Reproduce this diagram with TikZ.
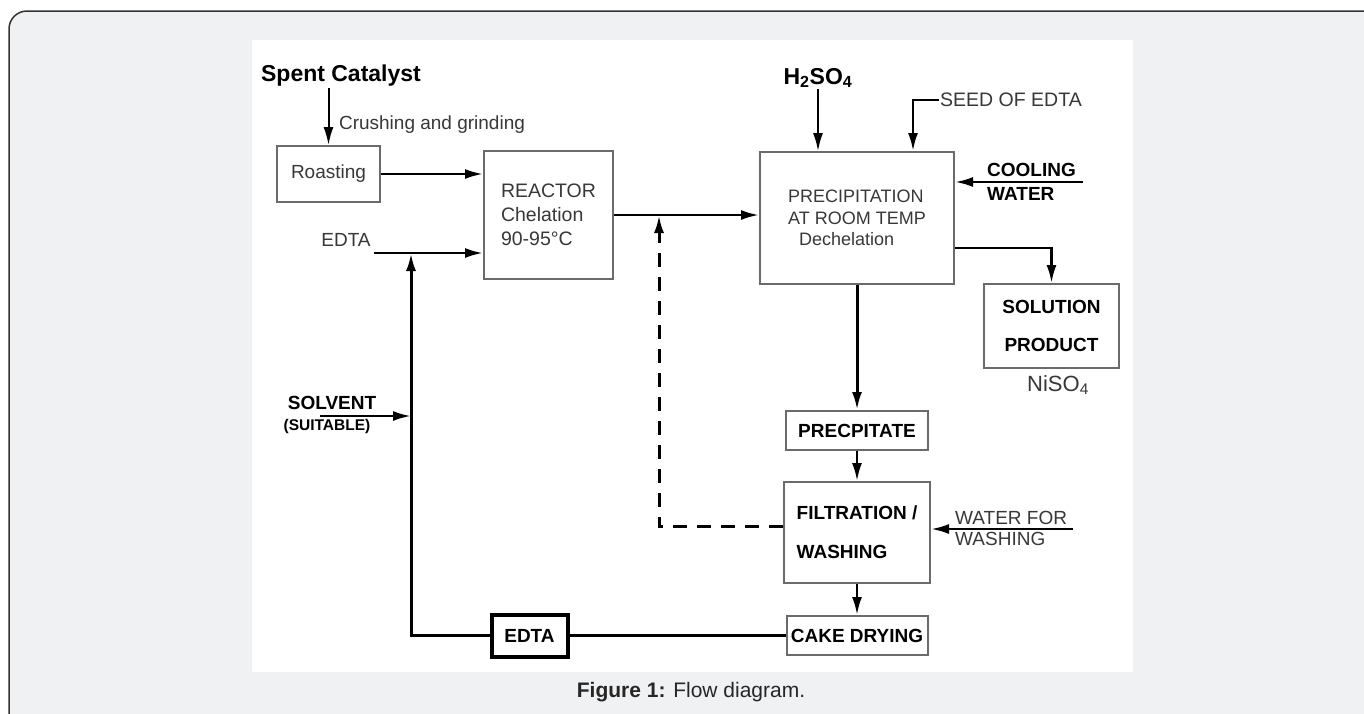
\documentclass[tikz,border=0pt]{standalone}
\usepackage{fontspec}
\setmainfont{Liberation Sans}
\usepackage{tikz}
\usetikzlibrary{arrows.meta,positioning,calc}
\definecolor{pagegrey}{HTML}{F0F1F3}
\definecolor{framecol}{HTML}{333333}
\definecolor{boxcol}{HTML}{6B6B6B}
\definecolor{txtcol}{HTML}{383838}

\begin{document}
\begin{tikzpicture}[x=1pt,y=-1pt,
  unit/.style={draw=boxcol,line width=2pt,align=center,font=\fontsize{19}{22}\selectfont,text=txtcol,inner sep=0pt},
  unitb/.style={unit,font=\fontsize{19}{22}\selectfont\bfseries,text=black},
  lbl/.style={font=\fontsize{19}{22}\selectfont,text=txtcol,inner sep=1pt},
  lblb/.style={font=\fontsize{19}{22}\selectfont\bfseries,inner sep=1pt},
  flow/.style={line width=2.5pt,-{Latex[length=18pt,width=10pt]}},
  pipe/.style={line width=2.5pt},
  back/.style={line width=3pt,dash pattern=on 14pt off 10pt,-{Latex[length=18pt,width=10pt]}}]
  \useasboundingbox (0,0) rectangle (1364,713);
  \clip (0,0) rectangle (1364,713);
  % page and panel
  \draw[framecol,line width=1.5pt,rounded corners=18pt,fill=pagegrey] (9,11) rectangle (1420,770);
  \fill[white] (252,40) rectangle (1133,672);

  % feed side
  \node[lblb,font=\fontsize{23}{26}\selectfont\bfseries] (spent) at (341,76) {Spent Catalyst};
  \node[lbl] (crush) at (432,125) {Crushing and grinding};
  \node[unit,minimum width=103,minimum height=56] (roast) at (328.5,174) {Roasting};
  \node[unit,minimum width=129,minimum height=128,align=left,font=\fontsize{19.5}{24}\selectfont] (reactor) at (548.5,215) {REACTOR\\Chelation\\90-95°C};
  \node[lbl] (edtalbl) at (346,240) {EDTA};
  \coordinate (edtafeed) at (374,253);
  \coordinate (rejoin) at (411,253);
  \node[lblb] (solv) at (332,403) {SOLVENT};
  \node[lblb,font=\fontsize{15.5}{17}\selectfont\bfseries] (suit) at (327,426) {(SUITABLE)};
  \coordinate (solvsrc) at (320,416);

  % precipitation side
  \node[unit,minimum width=194,minimum height=132,align=left,font=\fontsize{18}{21.5}\selectfont] (precip) at (857,218) {PRECIPITATION\\AT ROOM TEMP\\\hspace{11pt}Dechelation};
  \coordinate (tap) at (659,215);
  \node[lblb,font=\fontsize{23}{26}\selectfont\bfseries] (acid) at (818,78) {H\textsubscript{2}SO\textsubscript{4}};
  \node[lbl,anchor=west,font=\fontsize{19.5}{22}\selectfont] (seed) at (939,100) {SEED OF EDTA};
  \coordinate (seedbend) at (913,100);
  \node[lblb,align=left,anchor=west,font=\fontsize{19}{24}\selectfont\bfseries] (cool) at (986,182) {COOLING\\WATER};
  \coordinate (coolsrc) at (1083,182);
  \node[unitb,minimum width=135,minimum height=84,font=\fontsize{19}{38}\selectfont\bfseries] (sol) at (1051.5,326) {SOLUTION\\PRODUCT};
  \node[lbl,font=\fontsize{22}{24}\selectfont] (niso) at (1058,385) {NiSO\textsubscript{4}};

  % solids train
  \node[unitb,minimum width=142,minimum height=39,below=125pt of precip] (ppt) {PRECPITATE};
  \node[unitb,minimum width=146,minimum height=101,align=left,font=\fontsize{19}{39}\selectfont\bfseries,below=30pt of ppt] (filt) {FILTRATION /\\WASHING};
  \node[unitb,minimum width=141,minimum height=39,below=31pt of filt] (cake) {CAKE DRYING};
  \node[lbl,align=left,anchor=west,font=\fontsize{19}{21}\selectfont] (wash) at (954,528.5) {WATER FOR\\WASHING};
  \coordinate (washsrc) at (1073,529);
  \node[unitb,draw=black,line width=4pt,minimum width=76,minimum height=42,left=216pt of cake] (edtabox) {EDTA};

  % connectors
  \draw[flow,line width=2pt] (spent.south -| roast.north) -- (roast.north);
  \draw[flow] (roast.east) -- (roast.east -| reactor.west);
  \draw[flow] (edtafeed) -- (edtafeed -| reactor.west);
  \draw[flow] (reactor.east) -- (reactor.east -| precip.west);
  \draw[back] ([yshift=6pt]filt.west) -| (tap);
  \draw[flow,line width=2pt] (acid.south) -- (acid.south |- precip.north);
  \draw[flow] (seed.west) -- (seedbend) -- (seedbend |- precip.north);
  \draw[flow] (coolsrc) -- (coolsrc -| precip.east);
  \draw[flow] ([yshift=-30pt]precip.east) -| (sol.north);
  \draw[flow,line width=3pt] (precip.south) -- (ppt.north);
  \draw[flow] (ppt.south) -- (filt.north);
  \draw[flow] (filt.south) -- (cake.north);
  \draw[flow] (washsrc) -- (washsrc -| filt.east);
  \draw[pipe] (cake.west) -- (edtabox.east);
  \draw[flow,line width=3pt] (edtabox.west) -| (rejoin);
  \draw[flow] (solvsrc) -- (solvsrc -| rejoin);

  \node[font=\fontsize{21}{24}\selectfont,text=black!85] (caption) at (691,692) {\textbf{Figure 1:} Flow diagram.};
\end{tikzpicture}
\end{document}
